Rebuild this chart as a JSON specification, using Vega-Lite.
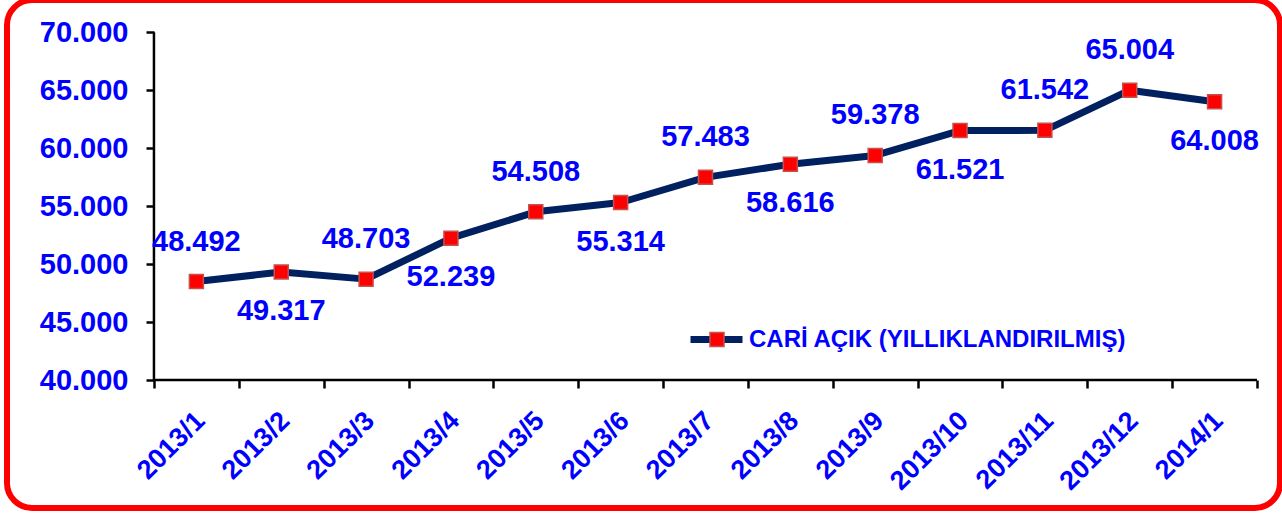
{
  "$schema": "https://vega.github.io/schema/vega-lite/v6.json",
  "width": 1273,
  "height": 508,
  "autosize": {"type": "none"},
  "padding": {"left": 7, "top": 0, "right": 2, "bottom": 5},
  "background": "white",
  "config": {
    "view": {"stroke": "#FF0000", "strokeWidth": 6, "cornerRadius": 25, "fill": "white"},
    "locale": {"number": {"decimal": ",", "thousands": ".", "grouping": [3], "currency": ["", ""]}},
    "font": "Liberation Sans"
  },
  "data": {
    "values": [
      {"month": "2013/1", "i": 0, "value": 48492, "pos": "above", "series": "CARİ AÇIK (YILLIKLANDIRILMIŞ)"},
      {"month": "2013/2", "i": 1, "value": 49317, "pos": "below", "series": "CARİ AÇIK (YILLIKLANDIRILMIŞ)"},
      {"month": "2013/3", "i": 2, "value": 48703, "pos": "above", "series": "CARİ AÇIK (YILLIKLANDIRILMIŞ)"},
      {"month": "2013/4", "i": 3, "value": 52239, "pos": "below", "series": "CARİ AÇIK (YILLIKLANDIRILMIŞ)"},
      {"month": "2013/5", "i": 4, "value": 54508, "pos": "above", "series": "CARİ AÇIK (YILLIKLANDIRILMIŞ)"},
      {"month": "2013/6", "i": 5, "value": 55314, "pos": "below", "series": "CARİ AÇIK (YILLIKLANDIRILMIŞ)"},
      {"month": "2013/7", "i": 6, "value": 57483, "pos": "above", "series": "CARİ AÇIK (YILLIKLANDIRILMIŞ)"},
      {"month": "2013/8", "i": 7, "value": 58616, "pos": "below", "series": "CARİ AÇIK (YILLIKLANDIRILMIŞ)"},
      {"month": "2013/9", "i": 8, "value": 59378, "pos": "above", "series": "CARİ AÇIK (YILLIKLANDIRILMIŞ)"},
      {"month": "2013/10", "i": 9, "value": 61521, "pos": "below", "series": "CARİ AÇIK (YILLIKLANDIRILMIŞ)"},
      {"month": "2013/11", "i": 10, "value": 61542, "pos": "above", "series": "CARİ AÇIK (YILLIKLANDIRILMIŞ)"},
      {"month": "2013/12", "i": 11, "value": 65004, "pos": "above", "series": "CARİ AÇIK (YILLIKLANDIRILMIŞ)"},
      {"month": "2014/1", "i": 12, "value": 64008, "pos": "below", "series": "CARİ AÇIK (YILLIKLANDIRILMIŞ)"}
    ]
  },
  "layer": [
    {
      "mark": {"type": "line", "strokeWidth": 7, "strokeJoin": "round", "strokeCap": "round"},
      "encoding": {
        "x": {
          "field": "i", "type": "quantitative",
          "scale": {"domain": [-2.232, 12.771], "nice": false, "zero": false},
          "axis": {
            "values": [-0.5, 0.5, 1.5, 2.5, 3.5, 4.5, 5.5, 6.5, 7.5, 8.5, 9.5, 10.5, 11.5, 12.5],
            "labels": false, "domain": false, "grid": false, "title": null,
            "ticks": true, "tickSize": 8, "tickWidth": 2.5, "tickColor": "black",
            "offset": -128
          }
        },
        "y": {
          "field": "value", "type": "quantitative",
          "scale": {"domain": [28956, 72787], "nice": false, "zero": false},
          "axis": {
            "values": [40000, 45000, 50000, 55000, 60000, 65000, 70000],
            "format": ",d", "domain": false, "grid": false, "title": null,
            "tickSize": 8, "tickWidth": 2.5, "tickColor": "black",
            "offset": -147,
            "labelFont": "Liberation Sans", "labelFontSize": 29, "labelFontWeight": "bold",
            "labelColor": "#0000FF", "labelPadding": 18
          }
        },
        "color": {
          "field": "series", "type": "nominal",
          "scale": {"range": ["#002060"]},
          "legend": {
            "orient": "none", "legendX": 680, "legendY": 310,
            "title": null, "padding": 0,
            "symbolType": "stroke", "symbolSize": 2704, "symbolStrokeWidth": 7,
            "labelFont": "Liberation Sans", "labelFontSize": 24, "labelFontWeight": "bold",
            "labelColor": "#0000FF", "labelOffset": 3, "labelLimit": 1000,
            "zindex": 0
          }
        }
      }
    },
    {
      "mark": {"type": "point", "shape": "square", "filled": true, "size": 196, "stroke": "#C8504B", "strokeWidth": 1.5, "opacity": 1},
      "encoding": {
        "x": {"field": "i", "type": "quantitative"},
        "y": {"field": "value", "type": "quantitative"},
        "fill": {
          "field": "series", "type": "nominal",
          "scale": {"domain": ["CARİ AÇIK (YILLIKLANDIRILMIŞ)"], "range": ["#FF0000"]},
          "legend": {
            "orient": "none", "legendX": 702, "legendY": 331.5,
            "title": null, "padding": 0,
            "symbolType": "square", "symbolSize": 196,
            "symbolStrokeColor": "#C8504B", "symbolStrokeWidth": 1.5,
            "labelExpr": "''", "labelFontSize": 1, "labelOpacity": 0,
            "zindex": 1
          }
        }
      }
    },
    {
      "data": {"values": [{}]},
      "mark": {"type": "rule", "stroke": "black", "strokeWidth": 2.5},
      "encoding": {
        "x": {"datum": -0.5, "type": "quantitative"},
        "y": {"datum": 40000, "type": "quantitative"},
        "y2": {"datum": 70000}
      }
    },
    {
      "data": {"values": [{}]},
      "mark": {"type": "rule", "stroke": "black", "strokeWidth": 2.5},
      "encoding": {
        "x": {"datum": -0.5, "type": "quantitative"},
        "x2": {"datum": 12.5},
        "y": {"datum": 40000, "type": "quantitative"}
      }
    },
    {
      "transform": [{"filter": "datum.pos == 'above'"}],
      "mark": {"type": "text", "font": "Liberation Sans", "fontSize": 29, "fontWeight": "bold", "color": "#0000FF", "baseline": "middle", "align": "center", "dy": -40},
      "encoding": {
        "x": {"field": "i", "type": "quantitative"},
        "y": {"field": "value", "type": "quantitative"},
        "text": {"field": "value", "type": "quantitative", "format": ",d"}
      }
    },
    {
      "transform": [{"filter": "datum.pos == 'below'"}],
      "mark": {"type": "text", "font": "Liberation Sans", "fontSize": 29, "fontWeight": "bold", "color": "#0000FF", "baseline": "middle", "align": "center", "dy": 39},
      "encoding": {
        "x": {"field": "i", "type": "quantitative"},
        "y": {"field": "value", "type": "quantitative"},
        "text": {"field": "value", "type": "quantitative", "format": ",d"}
      }
    },
    {
      "mark": {"type": "text", "font": "Liberation Sans", "fontSize": 27, "fontWeight": "bold", "color": "#0000FF", "baseline": "middle", "align": "right", "angle": 315, "dx": -23, "dy": 29},
      "encoding": {
        "x": {"field": "i", "type": "quantitative"},
        "y": {"datum": 40000, "type": "quantitative"},
        "text": {"field": "month", "type": "nominal"}
      }
    }
  ]
}
